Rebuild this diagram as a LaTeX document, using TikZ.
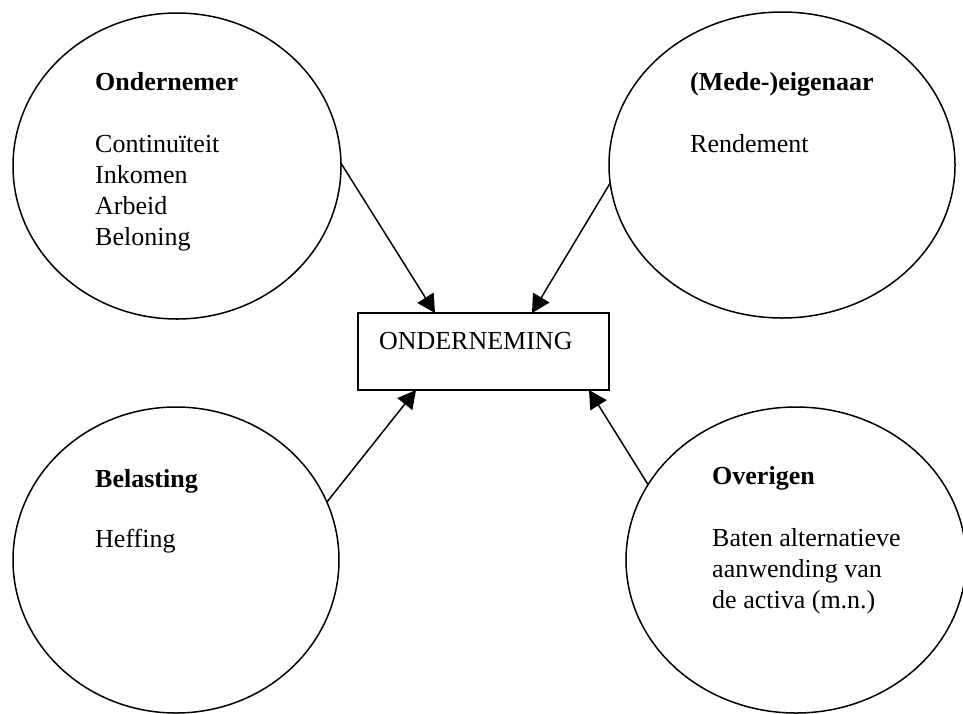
\documentclass[tikz,border=0pt]{standalone}
\usepackage{fontspec}
\setmainfont{Liberation Serif}
\usetikzlibrary{shapes.geometric,arrows.meta}

\tikzset{
    oval/.style={draw, ellipse, line width=1.5pt, inner sep=0pt, outer sep=0pt},
    lbl/.style={anchor=base west, inner sep=0pt, align=left, font=\fontsize{26}{31}\selectfont},
    arr/.style={line width=1.5pt, -{Triangle[length=18pt, width=19pt]}}
}

\begin{document}
\begin{tikzpicture}[x=1pt, y=-1pt]

        \useasboundingbox (0,0) rectangle (963,713);

        % Circles (stakeholders)
        \foreach \n/\x/\y/\rx in {ond/177/166/164, eig/782/165/173, bel/176/560/163, ove/796/560/170} {
            \node[oval, minimum width=2*\rx pt, minimum height=306pt] (\n) at (\x,\y) {};
        }

        % Company box
        \node[draw, line width=1.5pt, inner xsep=21pt, inner ysep=0pt, outer sep=0pt,
              text width=209pt, align=left, text height=36pt, text depth=41pt,
              font=\fontsize{26}{31}\selectfont] (onm) at (483.5,351.5) {ONDERNEMING};

        % Texts in circles (anchored at the last line)
        \node[lbl] (ondtxt) at (95,245) {\textbf{Ondernemer}\\[31pt]Continuïteit\\Inkomen\\Arbeid\\Beloning};
        \node[lbl] (eigtxt) at (690,152) {\textbf{(Mede-)eigenaar}\\[31pt]Rendement};
        \node[lbl] (beltxt) at (95,547) {\textbf{Belasting}\\[29pt]Heffing};
        \node[lbl] (ovetxt) at (712,608) {\textbf{Overigen}\\[31pt]Baten alternatieve\\aanwending van\\de activa (m.n.)};

        % Arrows to the company
        \draw[arr] (ond.1) -- ([xshift=-48.5pt]onm.north);
        \draw[arr] (eig.186) -- ([xshift=48.5pt]onm.north);
        \draw[arr] (bel.21) -- ([xshift=-67.5pt]onm.south);
        \draw[arr] (ove.153) -- ([xshift=105.5pt]onm.south);
    \end{tikzpicture}
\end{document}
